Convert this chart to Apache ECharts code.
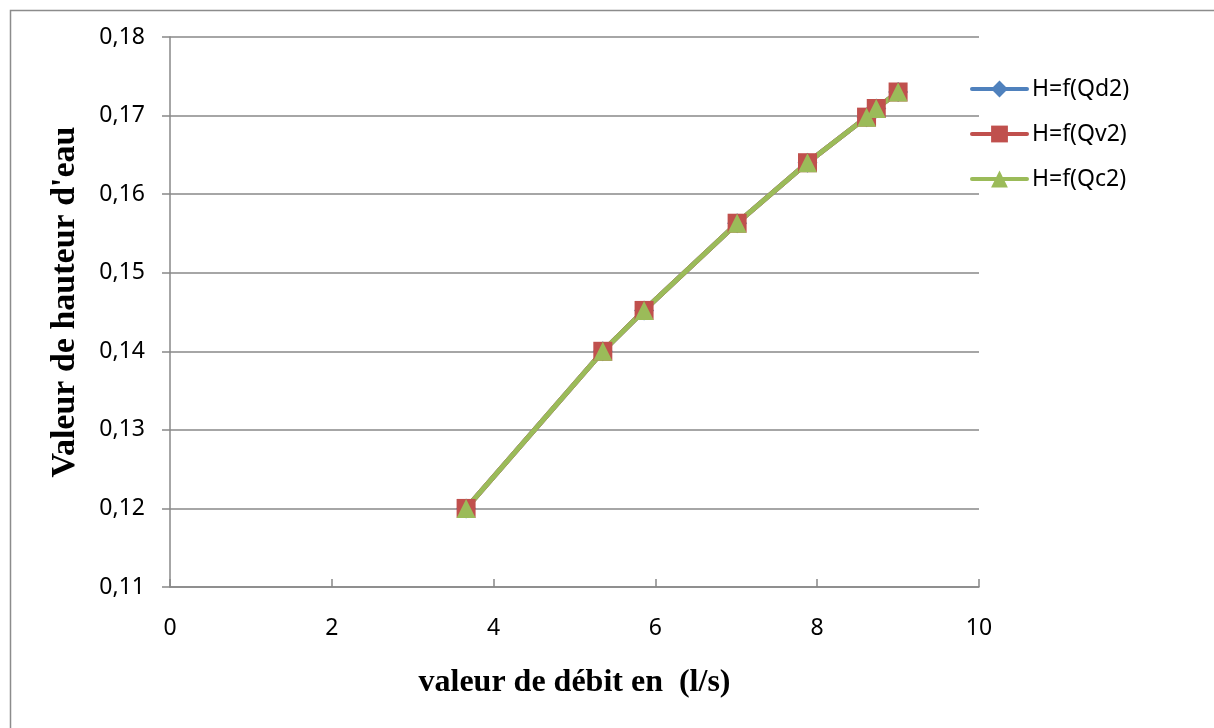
<!DOCTYPE html>
<html>
<head>
<meta charset="utf-8">
<script src="https://cdn.jsdelivr.net/npm/echarts@6/dist/echarts.min.js"></script>
<style>
html,body{margin:0;padding:0;background:#fff;}
#chart{width:1214px;height:728px;}
</style>
</head>
<body>
<div id="chart"></div>
<script>
const xValues = [3.66, 5.35, 5.86, 7.01, 7.88, 8.61, 8.73, 9.0];
const hQd2 = [0.12, 0.14, 0.1452, 0.1563, 0.164, 0.1698, 0.1709, 0.173];
const hQv2 = [0.12, 0.14, 0.1452, 0.1563, 0.164, 0.1698, 0.1709, 0.173];
const hQc2 = [0.12, 0.14, 0.1452, 0.1563, 0.164, 0.1698, 0.1709, 0.173];
const seriesNames = ['H=f(Qd2)', 'H=f(Qv2)', 'H=f(Qc2)'];
const xTitle = 'valeur de débit en  (l/s)';
const yTitle = "Valeur de hauteur d'eau";

const pairs = ys => xValues.map((x, i) => [x, ys[i]]);
const chart = echarts.init(document.getElementById('chart'), null, {renderer: 'canvas'});
const gray = '#888888';
const mk = (name, ys, color, symbol, size) => ({
  name: name, type: 'line', data: pairs(ys),
  symbol: symbol, symbolSize: size,
  lineStyle: {color: color, width: 5, cap: 'round', join: 'round'},
  itemStyle: {color: color},
  emphasis: {disabled: true},
  animation: false
});
chart.setOption({
  backgroundColor: '#ffffff',
  animation: false,
  graphic: [{
    type: 'rect', left: 8, top: 8, silent: true,
    shape: {x: 0, y: 0, width: 1300, height: 800},
    style: {fill: 'none', stroke: '#8c8c8c', lineWidth: 1.5}
  }],
  grid: {left: 170, right: 235, top: 37, bottom: 141, containLabel: false},
  legend: {
    orient: 'vertical', left: 970, top: 77, padding: 0,
    itemWidth: 55, itemHeight: 21, itemGap: 21,
    lineStyle: {width: 4, cap: 'round'},
    textStyle: {fontFamily: 'Noto Sans', fontSize: 23, color: '#000', lineHeight: 24},
    data: seriesNames
  },
  xAxis: {
    type: 'value', min: 0, max: 10, interval: 2,
    name: xTitle, nameLocation: 'middle', nameGap: 80,
    nameTextStyle: {fontFamily: 'Liberation Serif', fontWeight: 'bold', fontSize: 32, color: '#000'},
    axisLine: {show: true, onZero: false, lineStyle: {color: gray, width: 1.5}},
    axisTick: {show: true, inside: true, length: 8, lineStyle: {color: gray, width: 1.5}},
    axisLabel: {margin: 30, fontFamily: 'Noto Sans', fontSize: 23, color: '#000'},
    splitLine: {show: false}
  },
  yAxis: {
    type: 'value', min: 0.11, max: 0.18, interval: 0.01,
    name: yTitle, nameLocation: 'middle', nameGap: 88,
    nameTextStyle: {fontFamily: 'Liberation Serif', fontWeight: 'bold', fontSize: 34, color: '#000', padding: [0, 0, 0, 20]},
    axisLine: {show: true, lineStyle: {color: gray, width: 1.5}},
    axisTick: {show: true, inside: false, length: 8, lineStyle: {color: gray, width: 1.5}},
    axisLabel: {margin: 25, fontFamily: 'Noto Sans', fontSize: 23, color: '#000',
      formatter: v => v.toFixed(2).replace('.', ',')},
    splitLine: {show: true, lineStyle: {color: gray, width: 1.5}}
  },
  series: [
    mk(seriesNames[0], hQd2, '#4F81BD', 'diamond', 20),
    mk(seriesNames[1], hQv2, '#C0504D', 'rect', 19),
    mk(seriesNames[2], hQc2, '#9BBB59', 'triangle', 19)
  ]
});
</script>
</body>
</html>
